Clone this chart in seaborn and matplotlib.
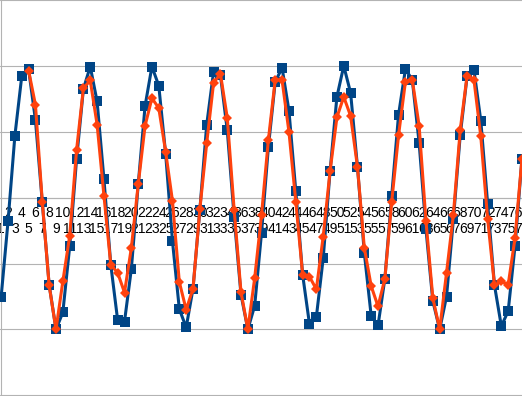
import matplotlib
matplotlib.use("Agg")
import matplotlib.pyplot as plt
import seaborn as sns
import numpy as np

# category index along the x axis
points = list(range(1, 78))

# first series (blue squares)
series_a = [
    -1.50, -0.36, 0.94, 1.84, 1.95, 1.18, -0.07, -1.32, -2.00, -1.74,
    -0.74, 0.58, 1.65, 1.99, 1.46, 0.28, -1.02, -1.86, -1.88, -1.08,
    0.20, 1.39, 1.99, 1.70, 0.67, -0.66, -1.69, -1.97, -1.38, -0.18,
    1.11, 1.91, 1.86, 1.02, -0.29, -1.47, -2.00, -1.64, -0.53, 0.77,
    1.76, 1.97, 1.32, 0.10, -1.17, -1.92, -1.81, -0.92, 0.40, 1.53,
    2.00, 1.59, 0.47, -0.84, -1.79, -1.94, -1.23, 0.03, 1.26, 1.95,
    1.79, 0.83, -0.48, -1.57, -2.00, -1.50, -0.33, 0.95, 1.84, 1.94,
    1.17, -0.09, -1.33, -1.95, -1.72, -0.73, 0.58,
]

# second series (orange diamonds), starts at category 5
series_b = [
    np.nan, np.nan, np.nan, np.nan, 1.93, 1.41, -0.06, -1.33, -2.00, -1.27,
    -0.58, 0.72, 1.66, 1.78, 1.11, 0.03, -1.02, -1.14, -1.44, -0.76,
    0.20, 1.09, 1.51, 1.36, 0.70, -0.05, -1.28, -1.70, -1.38, -0.17,
    0.83, 1.74, 1.88, 1.21, -0.18, -1.43, -2.00, -1.22, -0.26, 0.88,
    1.79, 1.78, 1.00, -0.06, -1.17, -1.20, -1.39, -0.59, 0.40, 1.22,
    1.53, 1.24, 0.47, -0.76, -1.34, -1.65, -1.23, -0.06, 0.95, 1.76,
    1.79, 1.09, -0.36, -1.52, -2.00, -1.14, -0.26, 1.03, 1.85, 1.79,
    0.93, -0.32, -1.33, -1.27, -1.32, -0.61, 0.58,
]

grid_levels = [-3, -2, -1, 0, 1, 2, 3]

sns.set_style("white")
plt.rcParams["font.family"] = ["Liberation Sans", "DejaVu Sans"]

fig = plt.figure(figsize=(5.22, 3.96), dpi=100)
ax = fig.add_axes([0, 0, 1, 1])

for lvl in grid_levels:
    ax.axhline(lvl, color="#b3b3b3", lw=0.8, zorder=0)

sns.lineplot(x=points, y=series_a, color="#004586", lw=2.2, marker="s",
             markersize=6.8, markeredgewidth=0, errorbar=None, ax=ax, zorder=3)
sns.lineplot(x=points, y=series_b, color="#ff420e", lw=2.2, marker="D",
             markersize=5.0, markeredgewidth=0, errorbar=None, ax=ax, zorder=4)

# staggered category labels: even on the first row, odd on the second
labels = [f"{n}\n" if n % 2 == 0 else f"\n{n}" for n in points]
ax.set_xticks(points)
ax.set_xticklabels(labels, fontsize=9, linespacing=1.2)
ax.tick_params(axis="x", direction="out", length=3.6, width=0.7,
               color="#b3b3b3", pad=2.4, labelcolor="black")
ax.tick_params(axis="y", left=False, labelleft=False)

ax.spines["bottom"].set_position(("data", 0))
ax.spines["left"].set_position(("data", 1))
for side in ["bottom", "left"]:
    ax.spines[side].set_color("#b3b3b3")
    ax.spines[side].set_linewidth(0.8)
ax.spines["top"].set_visible(False)
ax.spines["right"].set_visible(False)

ax.set_xlim(0.828, 77.015)
ax.set_ylim(-3.01, 3.0)
ax.set_xlabel("")
ax.set_ylabel("")

fig.savefig("out.png", dpi=100)
plt.close(fig)
